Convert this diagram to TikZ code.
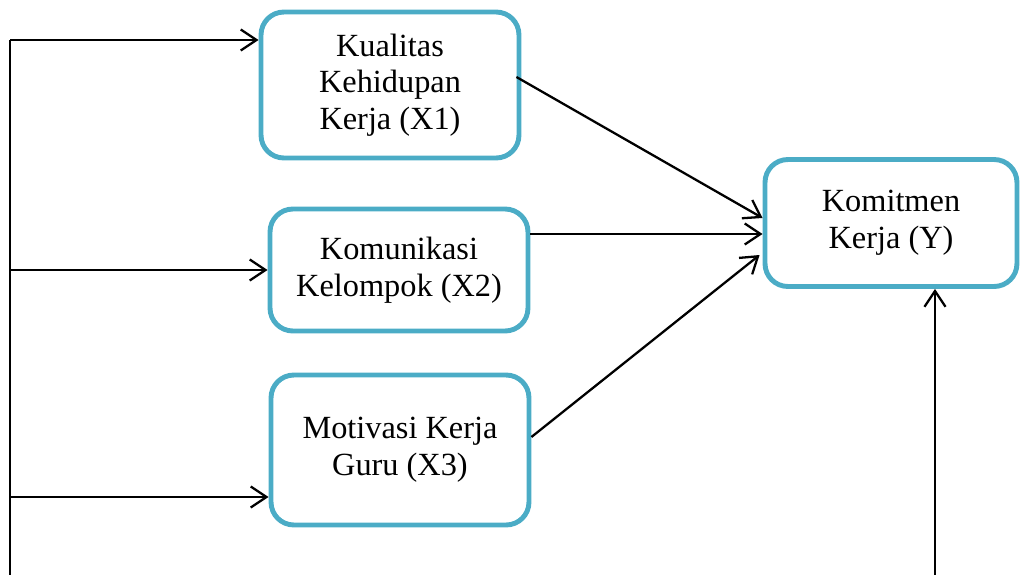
\documentclass[tikz,border=0pt]{standalone}
\usepackage{fontspec}
\setmainfont{Liberation Serif}
\usepackage{tikz}
\usetikzlibrary{arrows.meta,calc}
\definecolor{boxblue}{RGB}{75,172,198}
\tikzstyle{var} = [draw=boxblue,line width=2.8pt,rounded corners=13pt,align=center,
  font=\fontsize{18.4}{20.8}\selectfont]
\tikzstyle{link} = [draw,line width=1.3pt]

\begin{document}
\begin{tikzpicture}[x=0.02cm,y=-0.02cm,>={Straight Barb[length=9pt,width=12pt]}]
    \useasboundingbox (0,0) rectangle (1022,575);

    \node[var,minimum width=5.16cm,minimum height=2.92cm] (x1) at (390,85) {Kualitas\\Kehidupan\\Kerja (X1)};
    \node[var,minimum width=5.16cm,minimum height=2.44cm] (x2) at (399,270) {Komunikasi\\Kelompok (X2)};
    \node[var,minimum width=5.16cm,minimum height=3.0cm] (x3) at (400,450) {Motivasi Kerja\\Guru (X3)};
    \node[var,minimum width=5.04cm,minimum height=2.54cm] (y) at (891,223) {Komitmen\\Kerja (Y)};

    \coordinate (a1) at (10,40);
    \coordinate (a2) at (10,270);
    \coordinate (a3) at (10,497);
    \coordinate (bl) at (10,575);
    \coordinate (br) at (935,575);

    \draw[link] (bl) -- (a1);
    \draw[link,->] (a1) -- (x1.west |- a1);
    \draw[link,->] (a2) -- (x2.west |- a2);
    \draw[link,->] (a3) -- (x3.west |- a3);

    \draw[link,->] ($(x1.east)+(-5,-8)$) -- ($(y.west)+(0,-5)$);
    \draw[link,->] ($(x2.east)+(0,-36)$) -- ($(y.west)+(0,11)$);
    \draw[link,->] ($(x3.east)+(0,-13)$) -- ($(y.west)+(-3,32)$);
    \draw[link,->] (br) -- (br |- y.south);

\end{tikzpicture}
\end{document}
